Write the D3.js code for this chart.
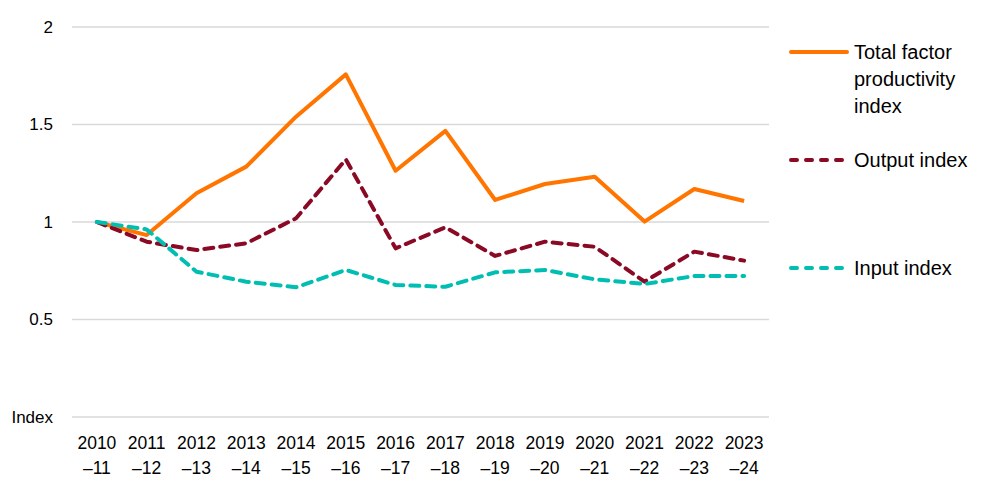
<!DOCTYPE html>
<html>
<head>
<meta charset="utf-8">
<script src="https://cdn.jsdelivr.net/npm/d3@7"></script>
<style>
  body { margin: 0; background: #fff; }
  svg text { font-family: "Liberation Sans", Arial, sans-serif; fill: #000; }
</style>
</head>
<body>
<svg id="chart" width="1000" height="500"></svg>
<script>
// data
const years = ['2010', '2011', '2012', '2013', '2014', '2015', '2016',
    '2017', '2018', '2019', '2020', '2021', '2022', '2023'];
const yearEnds = ['11', '12', '13', '14', '15', '16', '17',
    '18', '19', '20', '21', '22', '23', '24'];
const tfpIndex = [1.0, 0.933, 1.147, 1.284, 1.540, 1.757, 1.263,
    1.467, 1.113, 1.195, 1.232, 1.002, 1.169, 1.108];
const outputIndex = [1.0, 0.899, 0.856, 0.891, 1.019, 1.321, 0.865,
    0.973, 0.826, 0.899, 0.873, 0.694, 0.848, 0.802];
const inputIndex = [1.0, 0.962, 0.745, 0.694, 0.665, 0.754, 0.677,
    0.668, 0.742, 0.754, 0.706, 0.682, 0.723, 0.723];
const yTicks = [0, 0.5, 1, 1.5, 2];
const yTickLabels = ['Index', '0.5', '1', '1.5', '2'];

const series = [
    {name: ['Total factor', 'productivity', 'index'], values: tfpIndex, color: '#FF7500', dash: null, legendY: 52},
    {name: ['Output index'], values: outputIndex, color: '#8A0A25', dash: '9,7', legendY: 160},
    {name: ['Input index'], values: inputIndex, color: '#00BFB2', dash: '9,7', legendY: 268}
];

const svg = d3.select("#chart");

// scales
const x = d3.scaleBand()
    .domain(years)
    .range([72, 769])
    .padding(0);

const y = d3.scaleLinear()
    .domain([0, 2])
    .range([417, 27]);

// gridlines
svg.append("g")
    .selectAll("line")
    .data(yTicks)
    .enter()
    .append("line")
    .attr("x1", 72)
    .attr("x2", 769)
    .attr("y1", d => y(d))
    .attr("y2", d => y(d))
    .attr("stroke", "#d9d9d9")
    .attr("stroke-width", 1.3);

// y labels
svg.append("g")
    .selectAll("text")
    .data(yTicks)
    .enter()
    .append("text")
    .attr("x", 53)
    .attr("y", d => y(d))
    .attr("dy", "0.35em")
    .attr("text-anchor", "end")
    .attr("font-size", "17px")
    .text((d, i) => yTickLabels[i]);

// x labels
const xLab = svg.append("g")
    .selectAll("text")
    .data(years)
    .enter()
    .append("text")
    .attr("x", d => x(d) + x.bandwidth() / 2)
    .attr("text-anchor", "middle")
    .attr("font-size", "17.5px");

xLab.append("tspan")
    .attr("x", d => x(d) + x.bandwidth() / 2)
    .attr("y", 449)
    .text(d => d);

xLab.append("tspan")
    .attr("x", d => x(d) + x.bandwidth() / 2)
    .attr("y", 474)
    .text((d, i) => "\u2013" + yearEnds[i]);

// lines
const line = d3.line()
    .x((d, i) => x(years[i]) + x.bandwidth() / 2)
    .y(d => y(d));

series.forEach(s => {
    svg.append("path")
        .attr("d", line(s.values))
        .attr("fill", "none")
        .attr("stroke", s.color)
        .attr("stroke-width", 4)
        .attr("stroke-linejoin", "round")
        .attr("stroke-linecap", s.dash ? "round" : "butt")
        .attr("stroke-dasharray", s.dash);
});

// legend
series.forEach(s => {
    svg.append("line")
        .attr("x1", 791)
        .attr("x2", 847)
        .attr("y1", s.legendY)
        .attr("y2", s.legendY)
        .attr("stroke", s.color)
        .attr("stroke-width", 4)
        .attr("stroke-linecap", "round")
        .attr("stroke-dasharray", s.dash ? "6,9" : null);

    const t = svg.append("text")
        .attr("font-size", "20px");
    s.name.forEach((n, i) => {
        t.append("tspan")
            .attr("x", 854)
            .attr("y", s.legendY + 7 + i * 27)
            .text(n);
    });
});
</script>
</body>
</html>
